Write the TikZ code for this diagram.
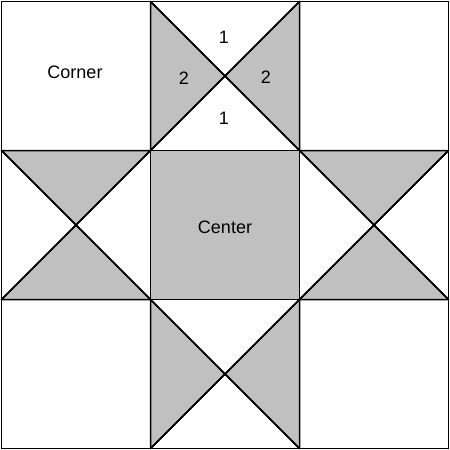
\documentclass[tikz,border=0pt]{standalone}
\usepackage{fontspec}
\setmainfont{Liberation Sans}
\definecolor{quiltgrey}{HTML}{C0C0C0}
\tikzset{
  patch/.style={fill=quiltgrey,draw=black,line width=1.5pt,line join=round},
  seam/.style={draw=black,line width=1.5pt,line cap=round},
  lbl/.style={font=\fontsize{18}{21}\selectfont,inner sep=0pt}
}
\begin{document}
\begin{tikzpicture}[x=1pt,y=-1pt]
\useasboundingbox (0,0) rectangle (450,450);
\fill[white] (0,0) rectangle (450,450);
% coordinates of the grid
\coordinate (A) at (1.5,1.5);
\coordinate (B) at (150.5,1.5);
\coordinate (C) at (299.5,1.5);
\coordinate (D) at (448.5,1.5);
\coordinate (E) at (1.5,150.5);
\coordinate (F) at (150.5,150.5);
\coordinate (G) at (299.5,150.5);
\coordinate (H) at (448.5,150.5);
\coordinate (I) at (1.5,299.5);
\coordinate (J) at (150.5,299.5);
\coordinate (K) at (299.5,299.5);
\coordinate (L) at (448.5,299.5);
\coordinate (M) at (1.5,448.5);
\coordinate (N) at (150.5,448.5);
\coordinate (O) at (299.5,448.5);
\coordinate (P) at (448.5,448.5);
% centres of the star points
\coordinate (tc) at (225,76);
\coordinate (lc) at (76,225);
\coordinate (rc) at (374,225);
\coordinate (bc) at (225,374);
% centre square
\path[patch] (F) -- (G) -- (K) -- (J) -- cycle;
% top point: left and right triangles
\path[patch] (B) -- (tc) -- (F) -- cycle;
\path[patch] (C) -- (tc) -- (G) -- cycle;
% bottom point
\path[patch] (J) -- (bc) -- (N) -- cycle;
\path[patch] (K) -- (bc) -- (O) -- cycle;
% left point: top and bottom triangles
\path[patch] (E) -- (lc) -- (F) -- cycle;
\path[patch] (I) -- (lc) -- (J) -- cycle;
% right point
\path[patch] (G) -- (rc) -- (H) -- cycle;
\path[patch] (K) -- (rc) -- (L) -- cycle;
% diagonals
\draw[seam] (B) -- (G) (C) -- (F);
\draw[seam] (E) -- (J) (F) -- (I);
\draw[seam] (G) -- (L) (H) -- (K);
\draw[seam] (J) -- (O) (K) -- (N);
% grid
\draw[seam] (A) rectangle (P);
\draw[seam] (B) -- (N) (C) -- (O) (E) -- (H) (I) -- (L);
% labels
\node[lbl] (corner) at (75,72) {Corner};
\node[lbl] (center) at (225,227) {Center};
\node[lbl] (t1) at (224,37) {1};
\node[lbl] (b1) at (224,118) {1};
\node[lbl] (l2) at (184,78) {2};
\node[lbl] (r2) at (266,77) {2};
\end{tikzpicture}
\end{document}
